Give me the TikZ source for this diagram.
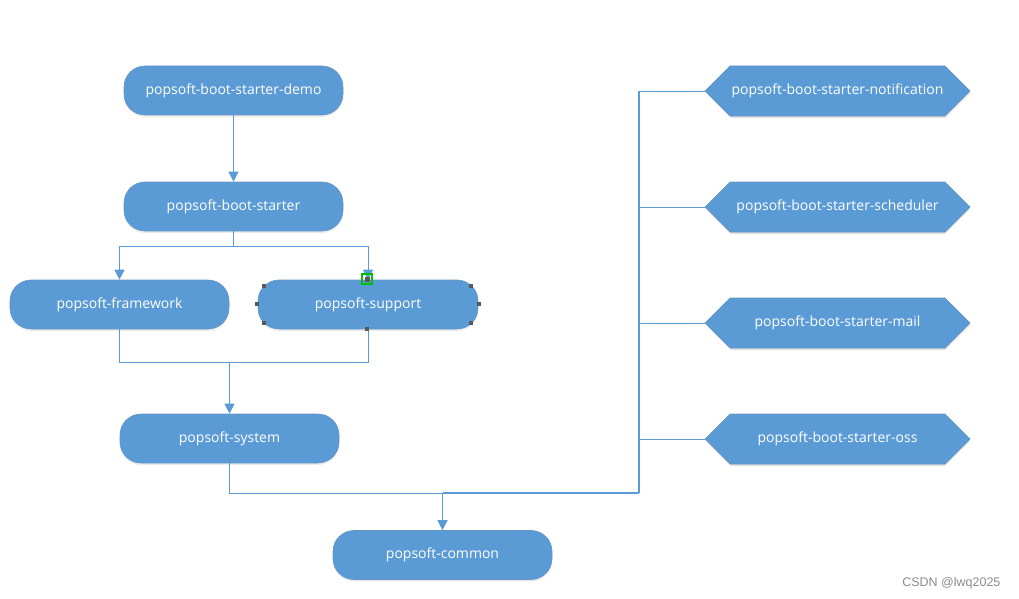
\documentclass[tikz,border=0pt]{standalone}
\usepackage{fontspec}
\setmainfont{Open Sans}
\newfontfamily\wmfont{Liberation Sans}
\usetikzlibrary{arrows.meta,shadows,calc}
\definecolor{boxblue}{HTML}{5B9BD5}
\definecolor{lineblue}{HTML}{5B9BD5}
\definecolor{handlegray}{HTML}{595959}
\tikzset{
  x=1pt,y=-1pt,
  boxfont/.style={font=\fontsize{14}{16}\selectfont},
  pill/.style={draw=boxblue!80!gray, line width=0.6pt, fill=boxblue, rounded corners=21pt,
    minimum width=219pt, minimum height=49pt, text=white, boxfont,
    drop shadow={shadow xshift=0pt,shadow yshift=-2pt,opacity=0.15}},
  hexnode/.style={draw=boxblue!80!gray, line width=0.6pt, fill=boxblue, text=white},
  conn/.style={draw=lineblue, line width=0.9pt},
  arr/.style={conn, -{Triangle[width=10pt,length=10pt]}},
  handle/.style={fill=handlegray, minimum size=4pt, inner sep=0pt},
}
\begin{document}
\begin{tikzpicture}
\useasboundingbox (0,0) rectangle (1019,599);
% pill nodes
\node[pill] (demo) at (233.5,90.5) {popsoft-boot-starter-demo};
\node[pill] (starter) at (233.5,206.5) {popsoft-boot-starter};
\node[pill] (framework) at (119.5,304.5) {popsoft-framework};
\node[pill, minimum width=220pt] (support) at (368,304.5) {popsoft-support};
\node[pill] (system) at (229.5,438.5) {popsoft-system};
\node[pill] (common) at (442.5,555) {popsoft-common};
% hexagon nodes
\foreach \n/\y/\t in {notif/91/popsoft-boot-starter-notification,
                      sched/207/popsoft-boot-starter-scheduler,
                      mail/323/popsoft-boot-starter-mail,
                      oss/439/popsoft-boot-starter-oss}{
  \fill[black,opacity=0.12] (706,\y+2) -- (731,\y-23) -- (945,\y-23) -- (970,\y+2) -- (945,\y+27) -- (731,\y+27) -- cycle;
  \path[hexnode] (705,\y) -- (730,\y-25) -- (945,\y-25) -- (970,\y) -- (945,\y+25) -- (730,\y+25) -- cycle;
  \node[text=white, boxfont] (\n) at (837.5,\y) {\t};
  \coordinate (\n-w) at (705,\y);
}
% connectors left tree
\draw[arr] (demo.south) -- (starter.north);
\coordinate (split) at (233.5,246);
\draw[conn] (starter.south) -- (split);
\draw[arr] (split) -| (framework.north);
\draw[arr] (split) -| (support.north);
\coordinate (merge) at (229.5,362);
\draw[conn] (framework.south) |- (merge);
\draw[conn] (support.south) |- (merge);
\draw[arr] (merge) -- (system.north);
% to common
\coordinate (join) at (442.5,493);
\coordinate (bus) at (639,493);
\draw[conn] (system.south) |- (join);
\draw[conn, line width=1.6pt] (bus) -- (join);
\draw[arr, line width=1.6pt] (join) -- (common.north);
\draw[conn, line width=1.3pt] (bus) -- (639,91);
\foreach \n in {notif,sched,mail,oss}{
  \draw[conn] (\n-w) -- (\n-w -| bus);
}
% selection handles on popsoft-support
\foreach \p in {(264,286),(257,304),(264,323),(367,329),(471,286),(479,304),(471,323)}{
  \node[handle] at \p {};
}
\node[draw=green!75!black, line width=1.6pt, minimum size=10pt, inner sep=0pt] (sel) at (367,279) {};
\node[handle, minimum size=5pt] at (sel) {};
% watermark
\node[anchor=east, text=gray!90, font=\wmfont\fontsize{12.5}{14}\selectfont] (wm) at (1004,583) {CSDN @lwq2025};
\end{tikzpicture}
\end{document}
